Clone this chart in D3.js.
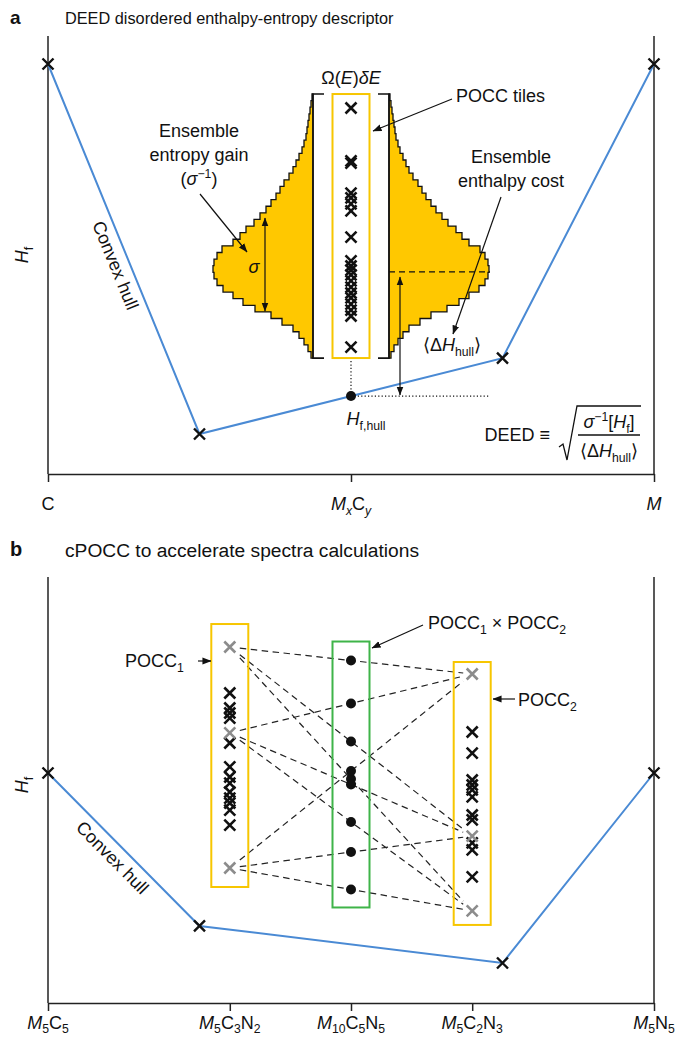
<!DOCTYPE html>
<html><head><meta charset="utf-8">
<script src="https://cdn.jsdelivr.net/npm/d3@7"></script>
<style>
body{margin:0;background:#fff}
svg{display:block}
text{font-family:"Liberation Sans",Arial,Helvetica,sans-serif;fill:#111}
</style>
</head><body>
<svg id="c" width="677" height="1039"></svg>
<script>
// ---------------- DATA ----------------
// Panel a: composition (C -> M) and formation enthalpy of hull phases
const compA = [0, 0.25, 0.75, 1];
const hullA = [0, -1.0, -0.795, 0];
// density of states histogram (Omega(E) dE), top (high Hf) to bottom (low Hf)
const dosCounts = [1,2,3,4,5,6,7,9,11,14,17,20,24,29,33,37,42,47,53,59,67,73,80,91,96,99,100,99,96,90,80,70,58,42,31,20,14,9,5,2];
const dosRange = [-0.081, -0.795];
// POCC tile energies (panel a)
const tilesA = [-0.119,-0.262,-0.268,-0.349,-0.362,-0.378,-0.397,-0.468,-0.532,-0.546,-0.557,-0.570,-0.586,-0.603,-0.619,-0.632,-0.649,-0.665,-0.681,-0.765];
const meanHfA = -0.562;
const sigmaA = [-0.416, -0.668];
const ticksA = [0, 0.5, 1];
const tickLabelsA = ['C', '*M*_{*x*}C_{*y*}', '*M*'];

// Panel b
const compB = [0, 0.25, 0.75, 1];
const hullB = [0, -0.805, -1.0, 0];
const pocc1Black = [0.421,0.342,0.316,0.289,0.158,0.032,-0.021,-0.053,-0.100,-0.132,-0.158,-0.195,-0.274];
const pocc1Gray  = [0.663, 0.211, -0.500];
const pocc2Black = [0.216,0.105,-0.037,-0.063,-0.089,-0.126,-0.221,-0.247,-0.368,-0.405,-0.547];
const pocc2Gray  = [0.521, -0.332, -0.726];
const colsB = [0.3, 0.5, 0.7];
const ticksB = [0, 0.3, 0.5, 0.7, 1];
const tickLabelsB = ['*M*_{5}C_{5}', '*M*_{5}C_{3}N_{2}', '*M*_{10}C_{5}N_{5}', '*M*_{5}C_{2}N_{3}', '*M*_{5}N_{5}'];

// ---------------- HELPERS ----------------
const svg = d3.select('#c');
const defs = svg.append('defs');
defs.append('marker').attr('id','ah').attr('viewBox','0 0 10 10')
  .attr('refX',9.5).attr('refY',5).attr('markerWidth',9).attr('markerHeight',9)
  .attr('markerUnits','userSpaceOnUse').attr('orient','auto-start-reverse')
  .append('path').attr('d','M0,1.2 L10,5 L0,8.8 Z').attr('fill','#111');

function parse(str){
  const segs=[]; let it=false, mode=null, buf='';
  const flush=()=>{ if(buf){segs.push({t:buf,i:it,m:mode}); buf='';} };
  for(let k=0;k<str.length;k++){
    const ch=str[k];
    if(ch==='*'){flush(); it=!it;}
    else if((ch==='_'||ch==='^')&&str[k+1]==='{'){flush(); mode=ch==='_'?'sub':'sup'; k++;}
    else if(ch==='}'&&mode){flush(); mode=null;}
    else buf+=ch;
  }
  flush(); return segs;
}
function rich(g, x, y, str, size, anchor, subShift){
  const t=g.append('text').attr('x',x).attr('y',y).attr('font-size',size).attr('text-anchor',anchor||'middle');
  let shift=0;
  const ss = subShift==null ? 0.3 : subShift;
  parse(str).forEach(s=>{
    const sp=t.append('tspan').text(s.t);
    const target = s.m==='sub'? size*ss : s.m==='sup'? -size*0.4 : 0;
    if(Math.abs(target-shift)>1e-6){ sp.attr('dy',target-shift); shift=target; }
    if(s.m) sp.attr('font-size',size*0.68);
    if(s.i) sp.attr('font-style','italic');
  });
  return t;
}
function cross(g, x, y, s, color, w){
  g.append('path').attr('d',`M${x-s},${y-s}L${x+s},${y+s}M${x-s},${y+s}L${x+s},${y-s}`)
   .attr('stroke',color).attr('stroke-width',w).attr('fill','none');
}
function arrow(g, pts, both){
  const p = g.append('path').attr('d', d3.line()(pts)).attr('stroke','#111').attr('stroke-width',1.2)
    .attr('fill','none').attr('marker-end','url(#ah)');
  if(both) p.attr('marker-start','url(#ah)');
}
const BLUE='#4a8ad4', GOLD='#ffc800', GOLDS='#f7c600', GREEN='#3fb449', GRAY='#8c8c8c', AX='#222';
const FS=18;

// ---------------- PANEL A ----------------
const L=48, R=654;
const A = {top:36, bottom:474};
const xA = d3.scaleLinear().domain([0,1]).range([L,R]);
const yA = d3.scaleLinear().domain([-1,0]).range([434,64]);
const gA = svg.append('g');

svg.append('text').attr('x',10).attr('y',24).attr('font-size',19).attr('font-weight','bold').text('a');
svg.append('text').attr('x',65).attr('y',24).attr('font-size',16.3).text('DEED disordered enthalpy-entropy descriptor');

gA.append('line').attr('x1',L).attr('x2',L).attr('y1',A.top).attr('y2',A.bottom).attr('stroke',AX).attr('stroke-width',1.5);
gA.append('line').attr('x1',R).attr('x2',R).attr('y1',A.top).attr('y2',A.bottom).attr('stroke',AX).attr('stroke-width',1.5);
const axA = gA.append('g').attr('transform',`translate(0,${A.bottom})`)
  .call(d3.axisBottom(xA).tickValues(ticksA).tickSize(8).tickSizeOuter(0).tickFormat(''));
axA.selectAll('path,line').attr('stroke',AX).attr('stroke-width',1.5);
ticksA.forEach((t,i)=> rich(gA, xA(t), 510, tickLabelsA[i], FS));

// y label
rich(gA, 0, 0, '*H*_{f}', FS).attr('transform','translate(28,255) rotate(-90)');

// histogram
const colA = xA(0.5);
const bx = 38;          // bracket half-width
const wS = d3.scaleLinear().domain([0, d3.max(dosCounts)]).range([0, 100]);
const eStep = (dosRange[1]-dosRange[0])/dosCounts.length;
function histPath(x0, dir){
  const pts=[[x0, yA(dosRange[0])]];
  dosCounts.forEach((c,i)=>{
    const y0=yA(dosRange[0]+i*eStep), y1=yA(dosRange[0]+(i+1)*eStep);
    const x=x0+dir*wS(c);
    pts.push([x,y0],[x,y1]);
  });
  pts.push([x0, yA(dosRange[1])]);
  return d3.line()(pts)+'Z';
}
[-1,1].forEach(dir=>{
  gA.append('path').attr('d',histPath(colA+dir*bx, dir)).attr('fill',GOLD).attr('stroke','#111').attr('stroke-width',1.3).attr('stroke-linejoin','miter');
});
const hTop=yA(dosRange[0]), hBot=yA(dosRange[1]);
gA.append('path').attr('d',`M${colA-bx+11},${hTop}H${colA-bx}V${hBot}H${colA-bx+11}`).attr('stroke','#111').attr('stroke-width',1.6).attr('fill','none');
gA.append('path').attr('d',`M${colA+bx-11},${hTop}H${colA+bx}V${hBot}H${colA+bx-11}`).attr('stroke','#111').attr('stroke-width',1.6).attr('fill','none');
// POCC tiles box
const tA0=yA(d3.max(tilesA))-14, tA1=yA(d3.min(tilesA))+11;
gA.append('rect').attr('x',colA-18.5).attr('y',tA0).attr('width',37).attr('height',tA1-tA0)
  .attr('fill','#fff').attr('stroke',GOLDS).attr('stroke-width',2);
tilesA.forEach(e=>cross(gA, colA, yA(e), 5.5, '#111', 2.6));

// hull
const hullLine = d3.line().x((d,i)=>xA(compA[i])).y(d=>yA(d));
gA.append('path').attr('d',hullLine(hullA)).attr('stroke',BLUE).attr('stroke-width',2).attr('fill','none');
hullA.forEach((e,i)=>cross(gA, xA(compA[i]), yA(e), 5.5, '#111', 2.4));
const hullInterpA = d3.scaleLinear().domain(compA).range(hullA);
const yHull = yA(hullInterpA(0.5));

// dotted guides
gA.append('line').attr('x1',colA).attr('x2',colA).attr('y1',tA1+3).attr('y2',yHull).attr('stroke','#111').attr('stroke-width',1.2).attr('stroke-dasharray','1.2,2.2');
gA.append('line').attr('x1',colA).attr('x2',490).attr('y1',yHull).attr('y2',yHull).attr('stroke','#111').attr('stroke-width',1.2).attr('stroke-dasharray','1.2,2.2');
gA.append('line').attr('x1',colA+bx).attr('x2',490).attr('y1',yA(meanHfA)).attr('y2',yA(meanHfA)).attr('stroke','#111').attr('stroke-width',1.3).attr('stroke-dasharray','6,4');
gA.append('circle').attr('cx',colA).attr('cy',yHull).attr('r',5).attr('fill','#111');

// arrows
arrow(gA, [[400, yHull-1],[400, yA(meanHfA)+5]], true);
arrow(gA, [[265, yA(sigmaA[0])],[265, yA(sigmaA[1])]], true);
arrow(gA, [[200,194],[247,252]]);
arrow(gA, [[501,197],[453,334]]);
arrow(gA, [[452,99],[373,131]]);

// annotations
rich(gA, colA, 84, 'Ω(*E*)*δE*', FS);
rich(gA, 456, 102, 'POCC tiles', FS, 'start');
rich(gA, 199, 137, 'Ensemble', FS);
rich(gA, 199, 161, 'entropy gain', FS);
rich(gA, 199, 185, '(*σ*^{−1})', FS);
rich(gA, 511, 163, 'Ensemble', FS);
rich(gA, 511, 187, 'enthalpy cost', FS);
rich(gA, 254, 273, '*σ*', FS);
rich(gA, 452, 351, '⟨Δ*H*_{hull}⟩', FS);
rich(gA, 366, 425, '*H*_{f,hull}', FS);
// convex hull label
function hullLabel(g, x0,y0,x1,y1, frac, off){
  const ang = Math.atan2(y1-y0, x1-x0)*180/Math.PI;
  const px = x0+(x1-x0)*frac, py=y0+(y1-y0)*frac;
  g.append('text').attr('font-size',FS).attr('text-anchor','middle').attr('x',0).attr('y',off)
   .attr('transform',`translate(${px},${py}) rotate(${ang})`).text('Convex hull');
}
hullLabel(gA, xA(compA[0]), yA(hullA[0]), xA(compA[1]), yA(hullA[1]), 0.53, 20);

// DEED formula
rich(gA, 550, 441, 'DEED ≡', FS, 'end');
gA.append('path').attr('d','M559,447 L563,444 L567,460 L577,406 L641,406').attr('stroke','#111').attr('stroke-width',1.3).attr('fill','none');
gA.append('line').attr('x1',578).attr('x2',640).attr('y1',435).attr('y2',435).attr('stroke','#111').attr('stroke-width',1.3);
rich(gA, 609, 428, '*σ*^{−1}[*H*_{f}]', FS);
rich(gA, 609, 457, '⟨Δ*H*_{hull}⟩', FS);

// ---------------- PANEL B ----------------
const B = {top:577, bottom:1003};
const xB = d3.scaleLinear().domain([0,1]).range([L,R]);
const yB = d3.scaleLinear().domain([-1,0]).range([963,773]);
const gB = svg.append('g');

svg.append('text').attr('x',10).attr('y',556).attr('font-size',20).attr('font-weight','bold').text('b');
svg.append('text').attr('x',65).attr('y',557).attr('font-size',19.2).text('cPOCC to accelerate spectra calculations');

gB.append('line').attr('x1',L).attr('x2',L).attr('y1',B.top).attr('y2',B.bottom).attr('stroke',AX).attr('stroke-width',1.5);
gB.append('line').attr('x1',R).attr('x2',R).attr('y1',B.top).attr('y2',B.bottom).attr('stroke',AX).attr('stroke-width',1.5);
const axB = gB.append('g').attr('transform',`translate(0,${B.bottom})`)
  .call(d3.axisBottom(xB).tickValues(ticksB).tickSize(8).tickSizeOuter(0).tickFormat(''));
axB.selectAll('path,line').attr('stroke',AX).attr('stroke-width',1.5);
ticksB.forEach((t,i)=> rich(gB, xB(t), 1029, tickLabelsB[i], FS, 'middle', 0.22));
rich(gB, 0, 0, '*H*_{f}', FS).attr('transform','translate(28,785) rotate(-90)');

const c1=xB(colsB[0]), c2=xB(colsB[1]), c3=xB(colsB[2]);
// combined energies
const combos=[];
pocc1Gray.forEach(a=>pocc2Gray.forEach(b=>combos.push({a,b,m:(a+b)/2})));
// dashed lines
combos.forEach(d=>{
  const ya=yB(d.a), yb=yB(d.b);
  const f=x=> ya+(x-c1)/(c3-c1)*(yb-ya);
  const xs=c1+10, xe=c3-9;
  gB.append('line').attr('x1',xs).attr('y1',f(xs)).attr('x2',xe).attr('y2',f(xe))
    .attr('stroke','#222').attr('stroke-width',1.2).attr('stroke-dasharray','6.5,4.5');
});
// boxes
function box(g, cx, es, padT, padB, color){
  const y0=yB(d3.max(es))-padT, y1=yB(d3.min(es))+padB;
  g.append('rect').attr('x',cx-18.5).attr('y',y0).attr('width',37).attr('height',y1-y0)
   .attr('fill','none').attr('stroke',color).attr('stroke-width',2);
}
box(gB, c1, pocc1Gray, 23, 19, GOLDS);
box(gB, c2, combos.map(d=>d.m), 19, 18, GREEN);
box(gB, c3, pocc2Gray, 12, 14, GOLDS);
pocc1Black.forEach(e=>cross(gB, c1, yB(e), 5.5, '#111', 2.6));
pocc1Gray.forEach(e=>cross(gB, c1, yB(e), 5.5, GRAY, 2.6));
pocc2Black.forEach(e=>cross(gB, c3, yB(e), 5.5, '#111', 2.6));
pocc2Gray.forEach(e=>cross(gB, c3, yB(e), 5.5, GRAY, 2.6));
combos.forEach(d=>gB.append('circle').attr('cx',c2).attr('cy',yB(d.m)).attr('r',5).attr('fill','#111'));

// hull
const hullLineB = d3.line().x((d,i)=>xB(compB[i])).y(d=>yB(d));
gB.append('path').attr('d',hullLineB(hullB)).attr('stroke',BLUE).attr('stroke-width',2).attr('fill','none');
hullB.forEach((e,i)=>cross(gB, xB(compB[i]), yB(e), 5.5, '#111', 2.4));
hullLabel(gB, xB(compB[0]), yB(hullB[0]), xB(compB[1]), yB(hullB[1]), 0.49, 20);

// labels
rich(gB, 125, 667, 'POCC_{1}', FS, 'start');
arrow(gB, [[198,661],[211,661]]);
rich(gB, 428, 629, 'POCC_{1} × POCC_{2}', FS, 'start');
arrow(gB, [[423,625],[372,648]]);
rich(gB, 518, 706, 'POCC_{2}', FS, 'start');
arrow(gB, [[515,699],[493,699]]);
</script>
</body></html>
